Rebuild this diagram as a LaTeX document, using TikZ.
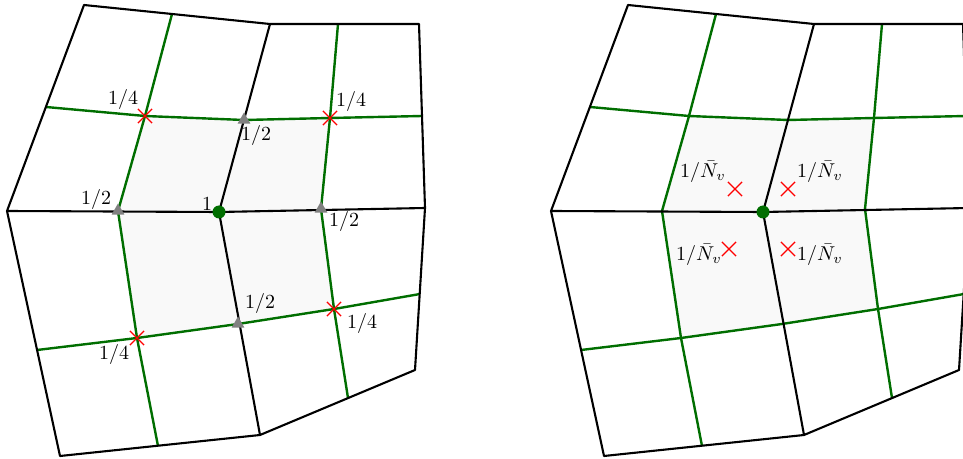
\documentclass[tikz,border=0pt]{standalone}
\usetikzlibrary{shapes.geometric,shapes.misc}
\definecolor{meshgreen}{RGB}{0,110,0}
\definecolor{cellgray}{RGB}{249,249,249}

\begin{document}
\begin{tikzpicture}[x=0.5pt,y=-0.5pt,
    primal/.style={line width=1.05pt,line join=round},
    dual/.style={meshgreen,line width=1.2pt,line join=round},
    cross/.style={cross out,draw=red,line width=0.6pt,minimum size=6.5pt,inner sep=0pt},
    tri/.style={regular polygon,regular polygon sides=3,fill=gray,minimum size=7.5pt,inner sep=0pt},
    vdot/.style={circle,fill=meshgreen,minimum size=6.5pt,inner sep=0pt},
    wlab/.style={inner sep=0pt}]
  \useasboundingbox (0,0) rectangle (963,459);
  % the same mesh twice
  \foreach \dx/\p in {0/L,544/R}{
    \begin{scope}[shift={(\dx,0)}]
      % primal vertices
      \coordinate (\p-tl) at (84,5);
      \coordinate (\p-tm) at (270,24);
      \coordinate (\p-tr) at (419,24);
      \coordinate (\p-ml) at (7,211);
      \coordinate (\p-c)  at (219,212);
      \coordinate (\p-mr) at (425,208);
      \coordinate (\p-br) at (415,370);
      \coordinate (\p-bm) at (260,435);
      \coordinate (\p-bl) at (60,456);
      % dual vertices
      \coordinate (\p-a) at (145,116);
      \coordinate (\p-b) at (244,120);
      \coordinate (\p-d) at (330,118);
      \coordinate (\p-l) at (118,211);
      \coordinate (\p-r) at (321,209);
      \coordinate (\p-e) at (137,338);
      \coordinate (\p-f) at (238,324);
      \coordinate (\p-h) at (334,309);
      % dual ends on the boundary
      \coordinate (\p-g1) at (46,107);
      \coordinate (\p-g2) at (422,116);
      \coordinate (\p-g3) at (37,350);
      \coordinate (\p-g4) at (420,294);
      \coordinate (\p-g5) at (172,14);
      \coordinate (\p-g6) at (158,446);
      \coordinate (\p-g7) at (338,24);
      \coordinate (\p-g8) at (348,398);

      \fill[cellgray] (\p-a) -- (\p-b) -- (\p-d) -- (\p-r) -- (\p-h)
        -- (\p-f) -- (\p-e) -- (\p-l) -- cycle;

      \draw[dual] (\p-g1) -- (\p-a) -- (\p-b) -- (\p-d) -- (\p-g2);
      \draw[dual] (\p-g3) -- (\p-e) -- (\p-f) -- (\p-h) -- (\p-g4);
      \draw[dual] (\p-g5) -- (\p-a) -- (\p-l) -- (\p-e) -- (\p-g6);
      \draw[dual] (\p-g7) -- (\p-d) -- (\p-r) -- (\p-h) -- (\p-g8);

      \draw[primal] (\p-tl) -- (\p-tm) -- (\p-tr) -- (\p-mr) -- (\p-br)
        -- (\p-bm) -- (\p-bl) -- (\p-ml) -- cycle;
      \draw[primal] (\p-ml) -- (\p-c) -- (\p-mr);
      \draw[primal] (\p-tm) -- (\p-c) -- (\p-bm);
    \end{scope}
  }

  % left: weights on the dual vertices
  \node[cross] (xa) at (L-a) {};
  \node[cross] (xd) at (L-d) {};
  \node[cross] (xe) at (L-e) {};
  \node[cross] (xh) at (L-h) {};
  \node[tri] (tb) at (L-b) {};
  \node[tri] (tl) at (L-l) {};
  \node[tri] (tr) at (L-r) {};
  \node[tri] (tf) at (L-f) {};
  \node[vdot] (vl) at (L-c) {};

  \node[wlab] (wa) at (123,100) {$1/4$};
  \node[wlab] (wd) at (351,102) {$1/4$};
  \node[wlab] (we) at (114,354) {$1/4$};
  \node[wlab] (wh) at (362,324) {$1/4$};
  \node[wlab] (wb) at (256,136) {$1/2$};
  \node[wlab] (wl) at (96,200) {$1/2$};
  \node[wlab] (wr) at (344,222) {$1/2$};
  \node[wlab] (wf) at (260,304) {$1/2$};
  \node[wlab] (wc) at (207,204) {$1$};

  % right: weights on the cells
  \node[vdot] (vr) at (R-c) {};
  \node[cross] (x1) at (735,189) {};
  \node[cross] (x2) at (788,189) {};
  \node[cross] (x3) at (729,249) {};
  \node[cross] (x4) at (788,249) {};
  \node[wlab] (n1) at (703,172) {$1/\bar{N}_v$};
  \node[wlab] (n2) at (820,172) {$1/\bar{N}_v$};
  \node[wlab] (n3) at (699,255) {$1/\bar{N}_v$};
  \node[wlab] (n4) at (820,255) {$1/\bar{N}_v$};
\end{tikzpicture}
\end{document}
